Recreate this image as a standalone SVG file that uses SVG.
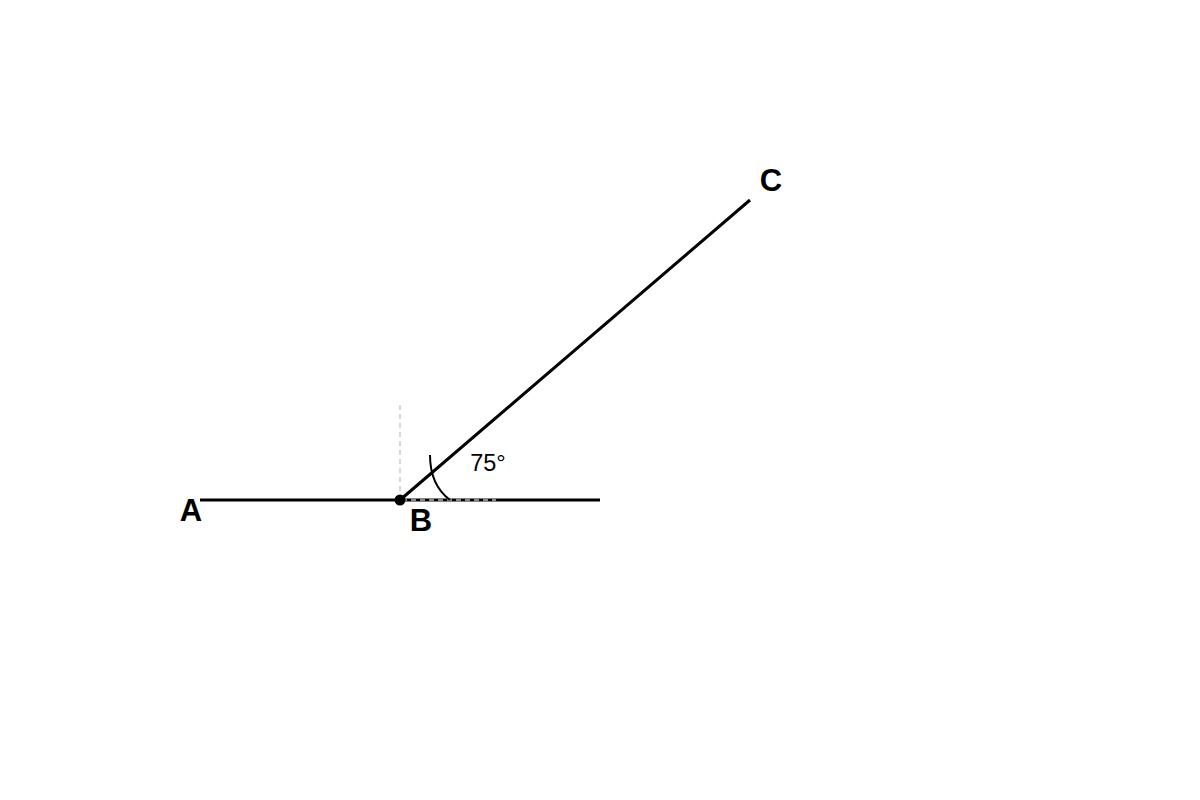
<svg xmlns="http://www.w3.org/2000/svg" width="1200" height="800" viewBox="0 0 1200 800">
<style>
.ln{stroke:#000;stroke-width:3;fill:none;stroke-linecap:butt}
.lbl{font-family:"Liberation Sans",Arial,sans-serif;font-weight:bold;font-size:31px;fill:#000;text-anchor:middle}
.ang{font-family:"Liberation Sans",Arial,sans-serif;font-size:23.5px;fill:#000;text-anchor:middle}
</style>
<rect width="1200" height="800" fill="#fff"/>
<g id="connectors">
<line class="ln" x1="200" y1="500" x2="600" y2="500"/>
<line class="ln" x1="400" y1="500" x2="750" y2="200"/>
<line x1="400" y1="405" x2="400" y2="500" stroke="#ccc" stroke-width="1.5" stroke-dasharray="5,4"/>
<line x1="402" y1="500" x2="496" y2="500" stroke="#888" stroke-width="3" stroke-dasharray="5,4"/>
<path d="M 430 455 Q 430 485 450 500" stroke="#000" stroke-width="2" fill="none"/>
</g>
<g id="node-A"><text class="lbl" x="191" y="521">A</text></g>
<g id="node-B"><circle cx="400" cy="500" r="5.5" fill="#000"/><text class="lbl" x="421" y="531">B</text></g>
<g id="node-C"><text class="lbl" x="771" y="191">C</text></g>
<g id="angle"><text class="ang" x="488" y="471">75°</text></g>
</svg>
